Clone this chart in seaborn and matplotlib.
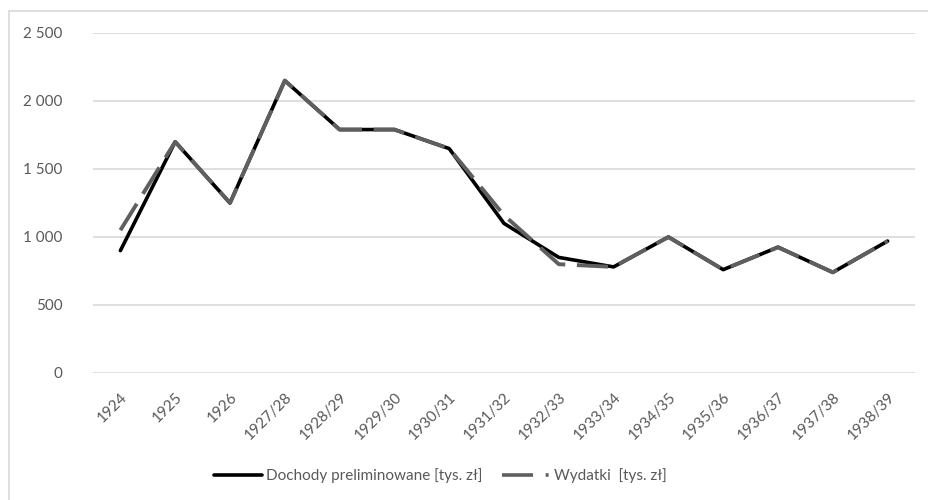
import matplotlib
matplotlib.use("Agg")
import matplotlib.pyplot as plt
import seaborn as sns
import pandas as pd
from matplotlib.lines import Line2D

sns.set_theme(style="white")
plt.rcParams["font.family"] = ["Lato", "DejaVu Sans"]

years = ["1924", "1925", "1926", "1927/28", "1928/29", "1929/30", "1930/31",
         "1931/32", "1932/33", "1933/34", "1934/35", "1935/36", "1936/37",
         "1937/38", "1938/39"]
dochody = [900, 1700, 1250, 2150, 1790, 1790, 1650, 1100, 850, 780,
           1000, 760, 925, 740, 970]
wydatki = [1050, 1700, 1250, 2150, 1790, 1790, 1650, 1160, 800, 780,
           1000, 760, 925, 740, 970]
yticks = [0, 500, 1000, 1500, 2000, 2500]

label_d = "Dochody preliminowane [tys. zł]"
label_w = "Wydatki  [tys. zł]"

df = pd.DataFrame({"rok": years, "dochody": dochody, "wydatki": wydatki})
df["x"] = range(len(years))

text_col = "#595959"
grid_col = "#d9d9d9"
gray = "#5f5f5f"

fig = plt.figure(figsize=(9.29, 5.0), dpi=100)
ax = fig.add_axes([93 / 929, 1 - 373 / 500, (915 - 93) / 929, (373 - 33) / 500])

sns.lineplot(data=df, x="x", y="dochody", ax=ax, color="black", linewidth=2.6,
             zorder=3)
sns.lineplot(data=df, x="x", y="wydatki", ax=ax, color=gray, linewidth=2.8,
             zorder=4)
ax.lines[-1].set_dashes((8, 3))
ax.lines[-1].set_dash_capstyle("butt")

ax.set_xlim(-0.5, len(years) - 0.5)
ax.set_ylim(0, 2500)
ax.set_yticks(yticks)
ax.set_yticklabels([f"{v:,}".replace(",", " ") for v in yticks])
ax.set_xticks(df["x"])
ax.set_xticklabels(years, rotation=45, ha="right", va="top",
                   rotation_mode="anchor")
ax.tick_params(axis="x", length=0, pad=12, labelsize=11, labelcolor=text_col)
ax.tick_params(axis="y", length=0, pad=22, labelsize=11, labelcolor=text_col)
ax.yaxis.grid(True, color=grid_col, linewidth=1.2)
ax.set_axisbelow(True)
for s in ax.spines.values():
    s.set_visible(False)
ax.set_xlabel("")
ax.set_ylabel("")

handles = [
    Line2D([0], [0], color="black", linewidth=2.6),
    Line2D([0], [0], color=gray, linewidth=2.6, dashes=(8.6, 3.5, 0.8, 20)),
]
fig.legend(handles, [label_d, label_w], loc="center",
           bbox_to_anchor=(440 / 929, 1 - 476 / 500), ncol=2, frameon=False,
           fontsize=11, labelcolor=text_col, handlelength=3.2,
           handletextpad=0.2, columnspacing=1.3)

# chart area outline (left and top edges)
fig.add_artist(Line2D([8.5 / 929, 8.5 / 929], [0, 1 - 11 / 500],
                      color=grid_col, linewidth=1.2, transform=fig.transFigure))
fig.add_artist(Line2D([8.5 / 929, 1], [1 - 11 / 500, 1 - 11 / 500],
                      color=grid_col, linewidth=1.2, transform=fig.transFigure))

fig.savefig("out.png", dpi=100, facecolor="white")
